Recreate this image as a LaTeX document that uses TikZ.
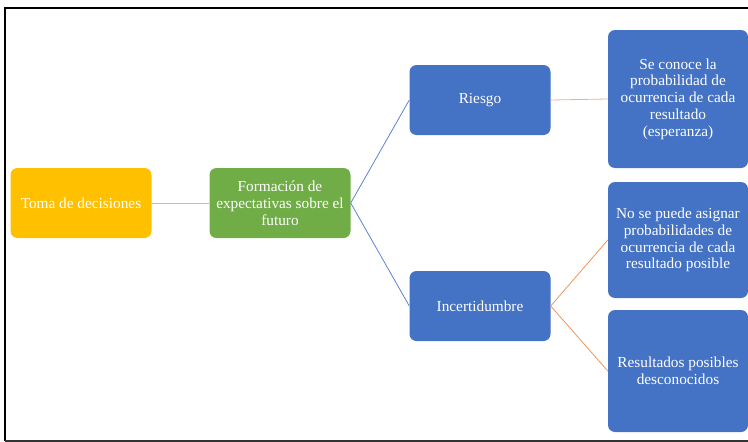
\documentclass[tikz,border=0pt]{standalone}
\usepackage{fontspec}
\setmainfont{Liberation Serif}

\definecolor{amarillo}{HTML}{FFC000}
\definecolor{verde}{HTML}{70AD47}
\definecolor{azul}{HTML}{4472C4}
\definecolor{verdeclaro}{HTML}{A9D18E}
\definecolor{azullinea}{HTML}{5B84D6}
\definecolor{naranjaclaro}{HTML}{F4B183}
\definecolor{naranja}{HTML}{F0955A}

\tikzset{
  caja/.style = {rounded corners = 7pt, text = white, align = center,
    font = \fontsize{15.3}{16.8}\selectfont, inner sep = 2pt,
    minimum width = 141pt, minimum height = 70pt},
  linea/.style = {line width = 0.8pt}
}

\begin{document}
\begin{tikzpicture}[x = 1pt, y = -1pt]
    \useasboundingbox (0, 0) rectangle (748, 442);

    % marco
    \draw[line width = 2.2pt] (748, 8) -- (5, 8) -- (5, 441);
    \draw[line width = 2pt, black!80] (5, 441) -- (748, 441);

    % primer nivel
    \node[caja, fill = amarillo] (toma) at (81, 203) {Toma de decisiones};
    \node[caja, fill = verde] (formacion) at (280, 203)
        {Formación de\\expectativas sobre el\\futuro};

    % segundo nivel
    \node[caja, fill = azul] (riesgo) at (480, 100) {Riesgo};
    \node[caja, fill = azul] (incert) at (480, 306) {Incertidumbre};

    % tercer nivel
    \node[caja, fill = azul, minimum width = 140pt, minimum height = 138pt]
        (conoce) at (678, 99)
        {Se conoce la\\probabilidad de\\ocurrencia de cada\\resultado\\(esperanza)};
    \node[caja, fill = azul, minimum width = 140pt, minimum height = 116pt]
        (asignar) at (678, 240)
        {No se puede asignar\\probabilidades de\\ocurrencia de cada\\resultado posible};
    \node[caja, fill = azul, minimum width = 140pt, minimum height = 122pt]
        (desconoc) at (678, 371)
        {Resultados posibles\\desconocidos};

    % conectores
    \draw[linea, verdeclaro] (toma.east) -- (formacion.west);
    \draw[linea, azullinea] (formacion.east) -- (riesgo.west);
    \draw[linea, azullinea] (formacion.east) -- (incert.west);
    \draw[linea, naranjaclaro] (riesgo.east) -- (conoce.west);
    \draw[linea, naranja] (incert.east) -- (asignar.west);
    \draw[linea, naranja] (incert.east) -- (desconoc.west);
\end{tikzpicture}
\end{document}
